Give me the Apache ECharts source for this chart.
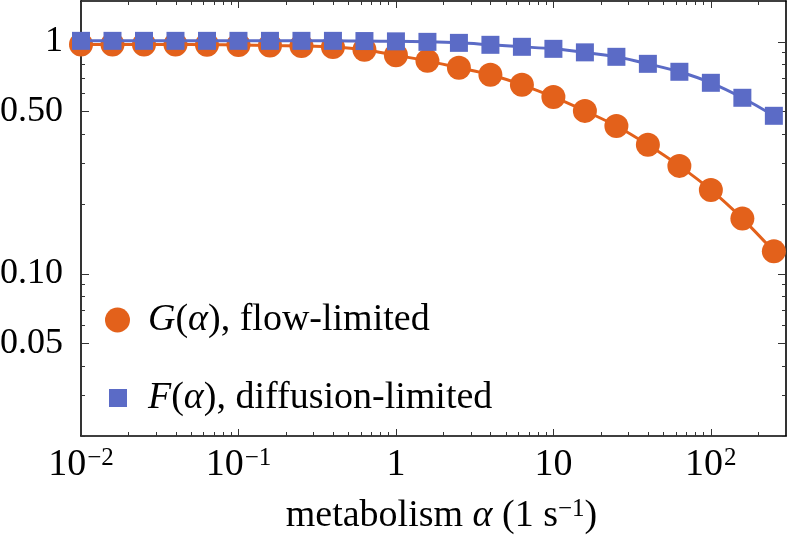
<!DOCTYPE html>
<html><head><meta charset="utf-8">
<script src="https://cdn.jsdelivr.net/npm/echarts@6/dist/echarts.min.js"></script>
<style>html,body{margin:0;padding:0;background:#fff}#c{width:788px;height:542px}</style>
</head><body><div id="c"></div>
<script>
// ---- data ----
const alpha = [0.01, 0.01585, 0.02512, 0.03981, 0.0631, 0.1, 0.1585, 0.2512, 0.3981, 0.631,
  1, 1.585, 2.512, 3.981, 6.31, 10, 15.85, 25.12, 39.81, 63.1, 100, 158.5, 251.2];
const G = [0.975, 0.975, 0.975, 0.975, 0.972, 0.97, 0.965, 0.96, 0.95, 0.924,
  0.875, 0.828, 0.773, 0.721, 0.653, 0.579, 0.504, 0.434, 0.360, 0.292, 0.230, 0.173, 0.125];
const F = [1.01, 1.01, 1.01, 1.01, 1.01, 1.01, 1.01, 1.01, 1.01, 1.008,
  1.005, 1.0, 0.99, 0.971, 0.952, 0.933, 0.901, 0.862, 0.804, 0.743, 0.666, 0.574, 0.480];
const seriesNames = ['G(α), flow-limited', 'F(α), diffusion-limited'];
const xMajor = [0.01, 0.1, 1, 10, 100];
const xMajorLabels = [['10', '−2'], ['10', '−1'], ['1', ''], ['10', ''], ['10', '2']];
const xMinor = [0.02,0.03,0.04,0.05,0.06,0.07,0.08,0.09,0.2,0.3,0.4,0.5,0.6,0.7,0.8,0.9,
  2,3,4,5,6,7,8,9,20,30,40,50,60,70,80,90,200];
const yMajor = [0.05, 0.1, 0.5, 1];
const yMajorLabels = ['0.05', '0.10', '0.50', '1'];
const yMinor = [0.02,0.03,0.04,0.06,0.07,0.08,0.09,0.2,0.3,0.4,0.6,0.7,0.8,0.9];
const xRange = [0.01, 300];
const yRange = [0.02, 1.5];
const xName = ['metabolism ', 'α', ' (1 s', '−1', ')'];

// ---- style ----
const FONT = 'Liberation Serif';
const FS = 38;
const YFS = 36;
const SFS = 25;
const ORANGE = '#E3611B';
const BLUE = '#5B6BC6';
const TICK = '#333';

function findIdx(arr, v) {
  for (let i = 0; i < arr.length; i++) if (Math.abs(Math.log10(arr[i]) - Math.log10(v)) < 1e-6) return i;
  return -1;
}

function xAxis(pos, values, len, withLabels, withLine) {
  const ax = {
    type: 'log', logBase: 10, min: xRange[0], max: xRange[1], position: pos, gridIndex: 0,
    axisLine: {show: withLine, onZero: false, lineStyle: {color: '#000', width: 1.6}},
    axisTick: {show: true, inside: true, length: len, customValues: values, lineStyle: {color: TICK, width: 1}},
    axisLabel: {show: false},
    splitLine: {show: false}, minorTick: {show: false}, minorSplitLine: {show: false}
  };
  if (withLabels) {
    ax.axisLabel = {
      show: true, customValues: xMajor, margin: 8,
      formatter: function (v) {
        const i = findIdx(xMajor, v);
        if (i < 0) return '';
        const p = xMajorLabels[i];
        return '{b|' + p[0] + '}' + (p[1] ? '{s|' + p[1] + '}' : '');
      },
      rich: {
        b: {fontFamily: FONT, fontSize: FS, lineHeight: 42, color: '#000'},
        s: {fontFamily: FONT, fontSize: SFS, lineHeight: SFS, color: '#000', verticalAlign: 'top', padding: [2, 0, 0, 1]}
      }
    };
    ax.name = '{n|' + xName[0] + '}{i|' + xName[1] + '}{n|' + xName[2] + '}{s|' + xName[3] + '}{n|' + xName[4] + '}';
    ax.nameLocation = 'middle';
    ax.nameGap = 59;
    ax.nameTextStyle = {
      padding: [0, 0, 0, 16],
      rich: {
        n: {fontFamily: FONT, fontSize: FS, lineHeight: 42, color: '#000'},
        i: {fontFamily: FONT, fontSize: FS, lineHeight: 42, fontStyle: 'italic', color: '#000'},
        s: {fontFamily: FONT, fontSize: SFS, lineHeight: SFS, color: '#000', verticalAlign: 'top', padding: [2, 0, 0, 0]}
      }
    };
  }
  return ax;
}

function yAxis(pos, values, len, withLabels, withLine) {
  const ax = {
    type: 'log', logBase: 10, min: yRange[0], max: yRange[1], position: pos, gridIndex: 0,
    axisLine: {show: withLine, onZero: false, lineStyle: {color: '#000', width: 1.6}},
    axisTick: {show: true, inside: true, length: len, customValues: values, lineStyle: {color: TICK, width: 1}},
    axisLabel: {show: false},
    splitLine: {show: false}, minorTick: {show: false}, minorSplitLine: {show: false}
  };
  if (withLabels) {
    ax.axisLabel = {
      show: true, customValues: yMajor, margin: 18,
      fontFamily: FONT, fontSize: YFS, color: '#000',
      formatter: function (v) {
        const i = findIdx(yMajor, v);
        return i < 0 ? '' : yMajorLabels[i];
      }
    };
  }
  return ax;
}

const legendRich = {
  n: {fontFamily: FONT, fontSize: FS, lineHeight: 42, color: '#000'},
  i: {fontFamily: FONT, fontSize: FS, lineHeight: 42, fontStyle: 'italic', color: '#000'}
};
function legendFmt(name) {
  return '{i|' + name[0] + '}{n|(}{i|α}{n|' + name.slice(3) + '}';
}

const chart = echarts.init(document.getElementById('c'), null, {renderer: 'canvas'});
chart.setOption({
  animation: false,
  backgroundColor: '#fff',
  grid: {left: 81, right: 2, top: 1, bottom: 106, containLabel: false, outerBoundsMode: 'none'},
  xAxis: [
    xAxis('bottom', xMinor, 4, true, true),
    xAxis('bottom', xMajor, 7, false, false),
    xAxis('top', xMinor, 4, false, true),
    xAxis('top', xMajor, 7, false, false)
  ],
  yAxis: [
    yAxis('left', yMinor, 4, true, true),
    yAxis('left', yMajor, 8, false, false),
    yAxis('right', yMinor, 4, false, true),
    yAxis('right', yMajor, 8, false, false)
  ],
  legend: [
    {data: [{name: seriesNames[0], icon: 'circle'}], left: 105, top: 301, padding: 0,
     itemWidth: 25, itemHeight: 25, formatter: legendFmt,
     textStyle: {fontFamily: FONT, fontSize: FS, padding: [0, 0, 0, 13], rich: legendRich}},
    {data: [{name: seriesNames[1], icon: 'rect'}], left: 109, top: 379, padding: 0,
     itemWidth: 18, itemHeight: 18, formatter: legendFmt,
     textStyle: {fontFamily: FONT, fontSize: FS, padding: [0, 0, 0, 16], rich: legendRich}}
  ],
  series: [
    {name: seriesNames[0], type: 'line', xAxisIndex: 0, yAxisIndex: 0,
     data: alpha.map((a, i) => [a, G[i]]), smooth: 0.3, symbol: 'circle', symbolSize: 24,
     showAllSymbol: true, itemStyle: {color: ORANGE}, lineStyle: {color: ORANGE, width: 3}, z: 2},
    {name: seriesNames[1], type: 'line', xAxisIndex: 0, yAxisIndex: 0,
     data: alpha.map((a, i) => [a, F[i]]), smooth: 0.3, symbol: 'rect', symbolSize: 18,
     showAllSymbol: true, itemStyle: {color: BLUE}, lineStyle: {color: BLUE, width: 3}, z: 3}
  ]
});
</script></body></html>
